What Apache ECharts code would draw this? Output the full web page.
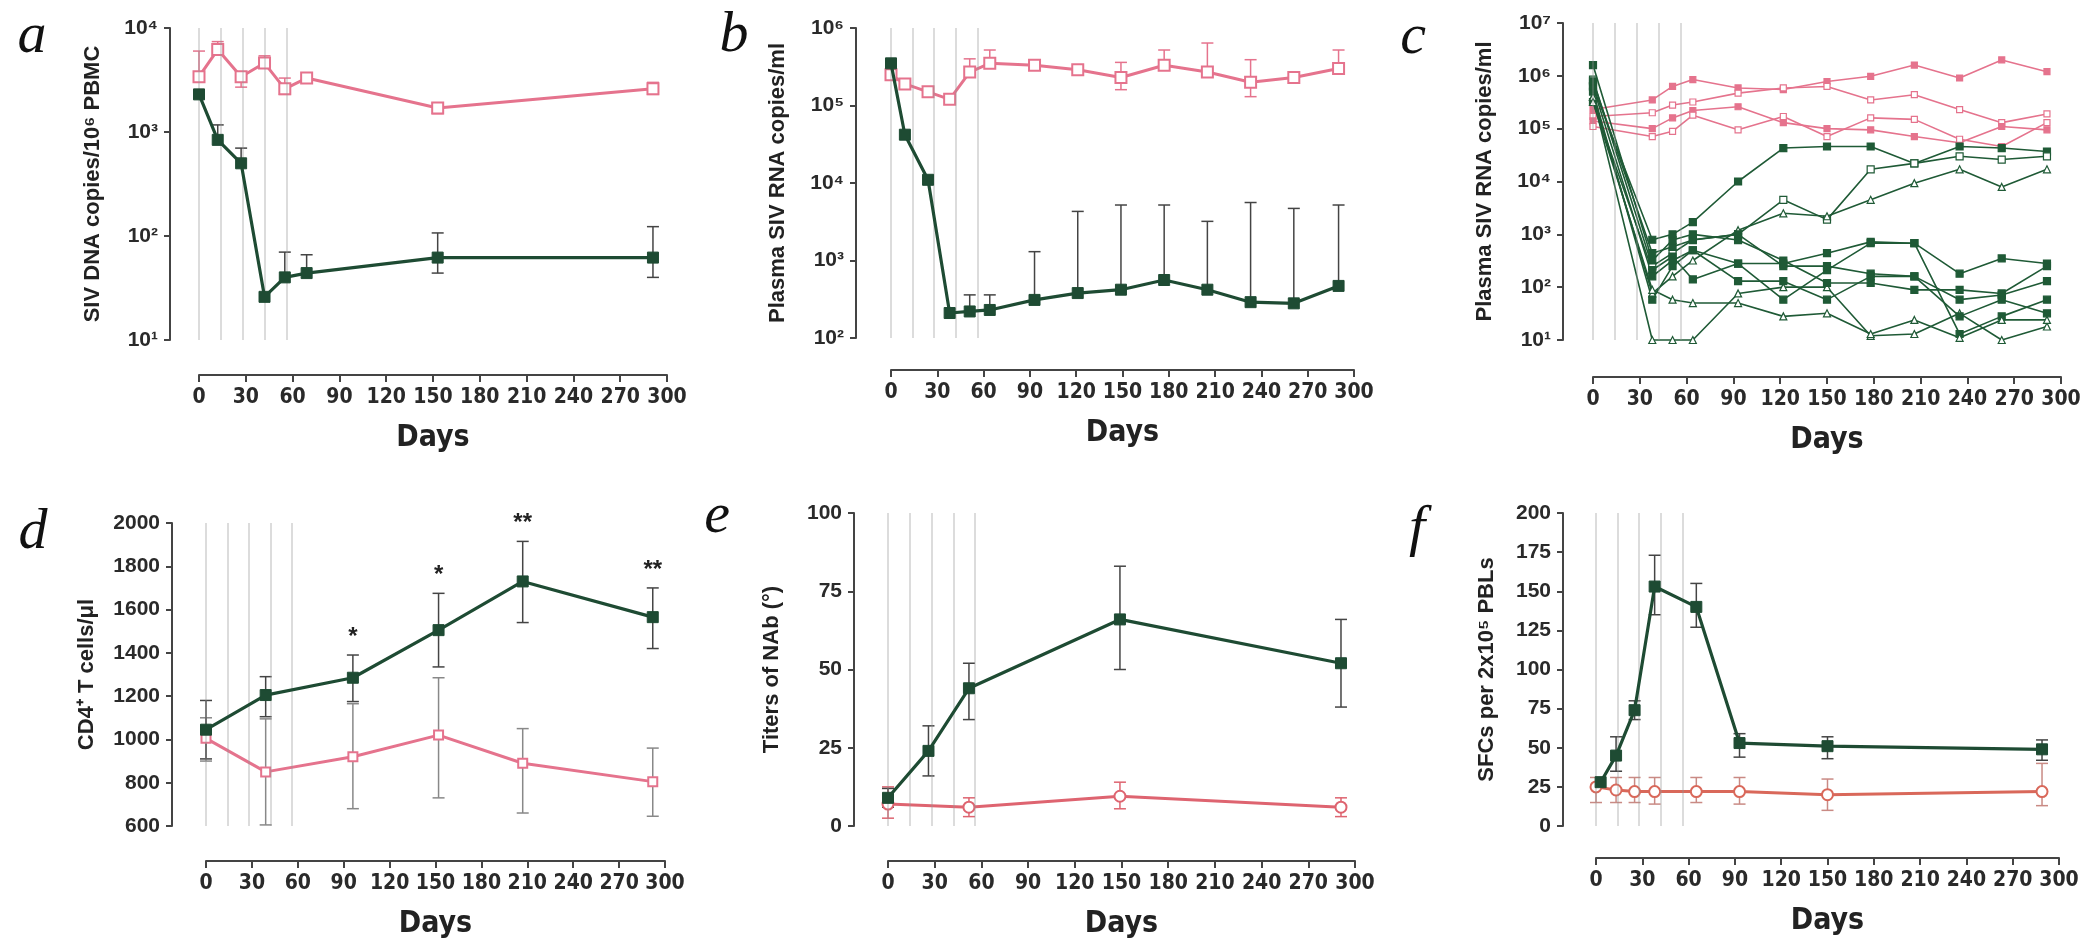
<!DOCTYPE html>
<html>
<head>
<meta charset="utf-8">
<script src="https://cdn.jsdelivr.net/npm/echarts@6/dist/echarts.min.js"></script>
<style>
  html, body { margin: 0; padding: 0; background: #ffffff; }
  #chart { width: 2099px; height: 947px; }
</style>
</head>
<body>
<div id="chart"></div>
<script>
// ---------------- data ----------------
// days on which the vertical reference lines are drawn
const markerDays = [0, 14, 28, 42, 56];

// a: SIV DNA copies / 10^6 PBMC
const aDays = [0, 12, 27, 42, 55, 69, 153, 291];
const aTreated = [2300, 840, 500, 26, 40, 44, 62, 62];
const aTreatedHigh = [null, 1170, 700, null, 70, 66, 107, 123];
const aTreatedLow = [null, null, null, null, null, null, 44, 40];
const aControl = [3400, 6200, 3400, 4600, 2600, 3300, 1700, 2600];
const aControlHigh = [6000, 7400, null, 5400, 3300, null, 1900, 3000];
const aControlLow = [null, null, 2700, null, 2300, null, 1500, 2300];

// b: plasma SIV RNA copies/ml (group means)
const bDays = [0, 9, 24, 38, 51, 64, 93, 121, 149, 177, 205, 233, 261, 290];
const bTreated = [3.5e5, 4.2e4, 1.1e4, 210, 220, 230, 310, 380, 420, 560, 420, 290, 280, 470];
const bTreatedHigh = [null, null, null, null, 360, 360, 1300, 4300, 5200, 5200, 3200, 5600, 4700, 5200];
const bTreatedLow = [null, null, null, null, null, null, null, null, null, null, null, null, null, null];
const bControl = [2.5e5, 1.9e5, 1.5e5, 1.2e5, 2.7e5, 3.5e5, 3.3e5, 2.9e5, 2.3e5, 3.3e5, 2.7e5, 2.0e5, 2.3e5, 3.0e5];
const bControlHigh = [null, null, null, null, 4.0e5, 5.2e5, null, null, 3.6e5, 5.2e5, 6.4e5, 3.9e5, null, 5.2e5];
const bControlLow = [null, null, null, null, null, null, null, null, 1.6e5, null, null, 1.3e5, null, null];

// c: plasma SIV RNA copies/ml, individual animals
const cDays = [0, 38, 51, 64, 93, 122, 150, 178, 206, 235, 262, 291];
const cControl = [
  [2.3e5, 3.5e5, 6.3e5, 8.5e5, 5.9e5, 5.5e5, 7.8e5, 9.8e5, 1.6e6, 9.1e5, 2.0e6, 1.2e6],
  [1.7e5, 2.0e5, 2.8e5, 3.2e5, 4.7e5, 5.9e5, 6.3e5, 3.5e5, 4.4e5, 2.3e5, 1.3e5, 1.9e5],
  [1.4e5, 1.0e5, 1.6e5, 2.2e5, 2.6e5, 1.3e5, 1.0e5, 9.5e4, 7.1e4, 5.4e4, 1.1e5, 9.5e4],
  [1.1e5, 7.1e4, 8.9e4, 1.8e5, 9.5e4, 1.7e5, 7.1e4, 1.6e5, 1.5e5, 6.3e4, 4.6e4, 1.3e5]
];
const cTreated = [
  [6.3e5, 790, 1000, 1700, 1.0e4, 4.3e4, 4.6e4, 4.6e4, 2.2e4, 4.6e4, 4.3e4, 3.7e4],
  [8.5e5, 250, 440, 790, 1000, 4500, 1900, 1.7e4, 2.2e4, 3.0e4, 2.6e4, 3.0e4],
  [4.1e5, 76, 160, 320, 1200, 2500, 2200, 4500, 9300, 1.7e4, 7900, 1.7e4],
  [5.0e5, 58, 250, 500, 280, 280, 440, 720, 680, 180, 350, 280],
  [3.2e5, 210, 380, 140, 280, 58, 210, 680, 680, 13, 28, 58],
  [4.0e5, 10, 10, 10, 76, 100, 100, 12, 13, 32, 10, 18],
  [6.3e5, 160, 320, 500, 130, 130, 58, 160, 160, 58, 71, 130],
  [7.9e5, 440, 580, 780, 1000, 250, 250, 180, 160, 28, 58, 32],
  [3.2e5, 89, 58, 50, 50, 28, 32, 13, 24, 11, 24, 24],
  [1.6e6, 320, 780, 1000, 780, 320, 120, 120, 89, 89, 76, 250]
];

// d: CD4+ T cells/ul
const dDays = [0, 39, 96, 152, 207, 292];
const dTreated = [1045, 1205, 1285, 1505, 1730, 1565];
const dTreatedHigh = [1180, 1290, 1390, 1675, 1915, 1700];
const dTreatedLow = [910, 1105, 1175, 1335, 1540, 1420];
const dControl = [1005, 850, 920, 1020, 890, 805];
const dControlHigh = [1100, 1095, 1165, 1285, 1050, 960];
const dControlLow = [900, 605, 680, 730, 660, 645];
const dSignificance = ['', '', '*', '*', '**', '**'];

// e: NAb titers
const eDays = [0, 26, 52, 149, 291];
const eTreated = [9, 24, 44, 66, 52];
const eTreatedHigh = [12, 32, 52, 83, 66];
const eTreatedLow = [6, 16, 34, 50, 38];
const eControlDays = [0, 52, 149, 291];
const eControl = [7, 6, 9.5, 6];
const eControlHigh = [12.5, 9, 14, 9];
const eControlLow = [2.5, 3, 5.5, 3];

// f: SFCs per 2x10^5 PBLs
const fTreatedDays = [3, 13, 25, 38, 65, 93, 150, 289];
const fTreated = [28, 45, 74, 153, 140, 53, 51, 49];
const fTreatedHigh = [null, 57, 80, 173, 155, 59, 57, 55];
const fTreatedLow = [null, 35, 68, 135, 127, 44, 43, 42];
const fControlDays = [0, 13, 25, 38, 65, 93, 150, 289];
const fControl = [25, 23, 22, 22, 22, 22, 20, 22];
const fControlHigh = [31, 31, 31, 31, 31, 31, 30, 40];
const fControlLow = [15, 15, 15, 14, 15, 14, 10, 13];

// ---------------- styling ----------------
const GREEN = '#1e4b33';
const GREEN_C = '#1f5a36';
const PINK = '#e5738d';
const PINK_E = '#de6470';
const PINK_F = '#d9685a';
const AXIS = '#444444';
const NARROW = "'Liberation Sans Narrow','DejaVu Sans Condensed','Liberation Sans',sans-serif";
const SANS = "'Liberation Sans','Arial',sans-serif";

const SUP = { '0': '⁰', '1': '¹', '2': '²', '3': '³', '4': '⁴', '5': '⁵', '6': '⁶', '7': '⁷', '8': '⁸', '9': '⁹' };
function powerLabel(v) {
  const e = Math.round(Math.log10(v));
  return '10' + String(e).split('').map(c => SUP[c]).join('');
}
function plainLabel(v) { return String(v); }

const panels = [
  { letter: 'a', lx: 32, ly: 37, grid: { left: 199, top: 28, width: 468, height: 312 }, xOff: 35, yOff: 29,
    y: { type: 'log', min: 10, max: 1e4 }, yName: 'SIV DNA copies/10⁶ PBMC', yGap: 66 },
  { letter: 'b', lx: 734, ly: 36, grid: { left: 891, top: 28, width: 463, height: 310 }, xOff: 32, yOff: 35,
    y: { type: 'log', min: 100, max: 1e6 }, yName: 'Plasma SIV RNA copies/ml', yGap: 67 },
  { letter: 'c', lx: 1413, ly: 38, grid: { left: 1593, top: 23, width: 468, height: 317 }, xOff: 37, yOff: 30,
    y: { type: 'log', min: 10, max: 1e7 }, yName: 'Plasma SIV RNA copies/ml', yGap: 67 },
  { letter: 'd', lx: 33, ly: 533, grid: { left: 206, top: 523, width: 459, height: 303 }, xOff: 35, yOff: 34,
    y: { type: 'value', min: 600, max: 2000, interval: 200 }, yName: 'CD4⁺ T cells/μl', yGap: 74 },
  { letter: 'e', lx: 717, ly: 517, grid: { left: 888, top: 513, width: 467, height: 313 }, xOff: 35, yOff: 34,
    y: { type: 'value', min: 0, max: 100, interval: 25 }, yName: 'Titers of NAb (°)', yGap: 71 },
  { letter: 'f', lx: 1417, ly: 530, grid: { left: 1596, top: 513, width: 463, height: 313 }, xOff: 32, yOff: 33,
    y: { type: 'value', min: 0, max: 200, interval: 25 }, yName: 'SFCs per 2x10⁵ PBLs', yGap: 65 }
];

const grids = [], xAxes = [], yAxes = [], series = [], graphics = [];

panels.forEach((p, i) => {
  grids.push(Object.assign({ containLabel: false }, p.grid));
  xAxes.push({
    gridIndex: i, type: 'value', min: 0, max: 300, interval: 30, offset: p.xOff,
    name: 'Days', nameLocation: 'middle', nameGap: 48,
    nameTextStyle: { fontFamily: NARROW, fontSize: 30, fontWeight: 'bold', color: '#222' },
    axisLine: { show: true, onZero: false, lineStyle: { color: AXIS, width: 2 } },
    axisTick: { show: true, length: 7, lineStyle: { color: AXIS, width: 2 } },
    axisLabel: { fontFamily: NARROW, fontSize: 21, fontWeight: 'bold', color: '#2a2a2a', margin: 12,
      showMinLabel: true, showMaxLabel: true, hideOverlap: false, formatter: plainLabel },
    splitLine: { show: false }
  });
  const y = Object.assign({
    gridIndex: i, offset: p.yOff,
    name: p.yName, nameLocation: 'middle', nameRotate: 90, nameGap: p.yGap,
    nameTextStyle: { fontFamily: SANS, fontSize: 22, fontWeight: 'bold', color: '#222' },
    axisLine: { show: true, onZero: false, lineStyle: { color: AXIS, width: 2 } },
    axisTick: { show: true, length: 6, lineStyle: { color: AXIS, width: 2 } },
    axisLabel: { fontFamily: SANS, fontSize: 21, fontWeight: 'bold', color: '#2a2a2a', margin: 12,
      showMinLabel: true, showMaxLabel: true, hideOverlap: false,
      formatter: p.y.type === 'log' ? powerLabel : plainLabel },
    splitLine: { show: false }, minorTick: { show: false }
  }, p.y);
  if (p.y.type === 'log') y.logBase = 10;
  yAxes.push(y);
  graphics.push({
    type: 'text', x: p.lx, y: p.ly,
    style: { text: p.letter, font: 'italic 58px "Liberation Serif", serif', fill: '#111',
      textAlign: 'center', textVerticalAlign: 'middle' }
  });
});

// vertical reference lines
function markerLines() {
  return {
    silent: true, symbol: 'none', animation: false, label: { show: false },
    lineStyle: { color: 'rgba(150,150,150,0.33)', width: 2, type: 'solid' },
    emphasis: { disabled: true },
    data: markerDays.map(d => ({ xAxis: d }))
  };
}

function lineSeries(idx, days, vals, o) {
  return {
    type: 'line', xAxisIndex: idx, yAxisIndex: idx, clip: false, animation: false,
    data: days.map((d, k) => [d, vals[k]]),
    symbol: o.symbol, symbolSize: o.size,
    lineStyle: { color: o.color, width: o.width },
    itemStyle: { color: o.fill, borderColor: o.color, borderWidth: o.border },
    emphasis: { disabled: true }, z: o.z || 3,
    markLine: o.marks ? markerLines() : undefined
  };
}

function errorBars(idx, days, mean, low, high, color, width) {
  const rows = [];
  days.forEach((d, k) => {
    const hasLo = low[k] != null, hasHi = high[k] != null;
    if (!hasLo && !hasHi) return;
    rows.push([d, hasLo ? low[k] : mean[k], hasHi ? high[k] : mean[k], hasLo ? 1 : 0, hasHi ? 1 : 0]);
  });
  return {
    type: 'custom', xAxisIndex: idx, yAxisIndex: idx, silent: true, animation: false, z: 2,
    encode: { x: 0, y: [1, 2] },
    data: rows,
    renderItem(params, api) {
      const x = api.value(0);
      const lo = api.coord([x, api.value(1)]);
      const hi = api.coord([x, api.value(2)]);
      const style = { stroke: color, lineWidth: width };
      const cap = 6;
      const kids = [{ type: 'line', shape: { x1: lo[0], y1: lo[1], x2: hi[0], y2: hi[1] }, style }];
      if (api.value(3)) kids.push({ type: 'line', shape: { x1: lo[0] - cap, y1: lo[1], x2: lo[0] + cap, y2: lo[1] }, style });
      if (api.value(4)) kids.push({ type: 'line', shape: { x1: hi[0] - cap, y1: hi[1], x2: hi[0] + cap, y2: hi[1] }, style });
      return { type: 'group', children: kids };
    }
  };
}

const treatedStyle = { symbol: 'rect', size: 11, color: GREEN, fill: GREEN, border: 1, width: 3.2, z: 5 };
const controlStyle = (c, sym) => ({ symbol: sym, size: 11, color: c, fill: '#ffffff', border: 2, width: 3, z: 4 });

// a
series.push(errorBars(0, aDays, aControl, aControlLow, aControlHigh, PINK, 1.5));
series.push(lineSeries(0, aDays, aControl, Object.assign({ marks: true }, controlStyle(PINK, 'rect'))));
series.push(errorBars(0, aDays, aTreated, aTreatedLow, aTreatedHigh, '#444', 1.5));
series.push(lineSeries(0, aDays, aTreated, treatedStyle));

// b
series.push(errorBars(1, bDays, bControl, bControlLow, bControlHigh, PINK, 1.5));
series.push(lineSeries(1, bDays, bControl, Object.assign({ marks: true }, controlStyle(PINK, 'rect'))));
series.push(errorBars(1, bDays, bTreated, bTreatedLow, bTreatedHigh, '#444', 1.5));
series.push(lineSeries(1, bDays, bTreated, treatedStyle));

// c: individual animals
cControl.forEach((vals, k) => {
  series.push(lineSeries(2, cDays, vals, {
    symbol: 'rect', size: 6, color: PINK, fill: k % 2 ? '#ffffff' : PINK, border: 1.2, width: 1.6, z: 3,
    marks: k === 0
  }));
});
cTreated.forEach((vals, k) => {
  const open = (k === 1 || k === 2 || k === 5 || k === 8);
  series.push(lineSeries(2, cDays, vals, {
    symbol: k % 3 === 2 ? 'triangle' : 'rect', size: 7, color: GREEN_C, fill: open ? '#ffffff' : GREEN_C,
    border: 1.2, width: 1.6, z: 4
  }));
});

// d
series.push(errorBars(3, dDays, dControl, dControlLow, dControlHigh, '#888', 1.5));
series.push(lineSeries(3, dDays, dControl, Object.assign({ marks: true }, controlStyle(PINK, 'rect'), { size: 9 })));
series.push(errorBars(3, dDays, dTreated, dTreatedLow, dTreatedHigh, '#444', 1.5));
series.push(lineSeries(3, dDays, dTreated, treatedStyle));
series.push({
  type: 'custom', xAxisIndex: 3, yAxisIndex: 3, silent: true, animation: false, z: 6,
  encode: { x: 0, y: 1 },
  data: dDays.map((d, k) => [d, dTreatedHigh[k]]),
  renderItem(params, api) {
    const p = api.coord([api.value(0), api.value(1)]);
    return {
      type: 'text', x: p[0], y: p[1] - 6,
      style: { text: dSignificance[params.dataIndex], font: 'bold 24px "Liberation Sans", sans-serif',
        fill: '#222', textAlign: 'center', textVerticalAlign: 'bottom' }
    };
  }
});

// e
series.push(errorBars(4, eControlDays, eControl, eControlLow, eControlHigh, PINK_E, 1.5));
series.push(lineSeries(4, eControlDays, eControl, Object.assign({ marks: true }, controlStyle(PINK_E, 'circle'))));
series.push(errorBars(4, eDays, eTreated, eTreatedLow, eTreatedHigh, '#444', 1.5));
series.push(lineSeries(4, eDays, eTreated, treatedStyle));

// f
series.push(errorBars(5, fControlDays, fControl, fControlLow, fControlHigh, '#c98a84', 1.5));
series.push(lineSeries(5, fControlDays, fControl, Object.assign({ marks: true }, controlStyle(PINK_F, 'circle'))));
series.push(errorBars(5, fTreatedDays, fTreated, fTreatedLow, fTreatedHigh, '#444', 1.5));
series.push(lineSeries(5, fTreatedDays, fTreated, treatedStyle));

const chart = echarts.init(document.getElementById('chart'), null, { renderer: 'canvas' });
chart.setOption({
  backgroundColor: '#ffffff',
  animation: false,
  grid: grids,
  xAxis: xAxes,
  yAxis: yAxes,
  series: series,
  graphic: graphics
});
</script>
</body>
</html>
